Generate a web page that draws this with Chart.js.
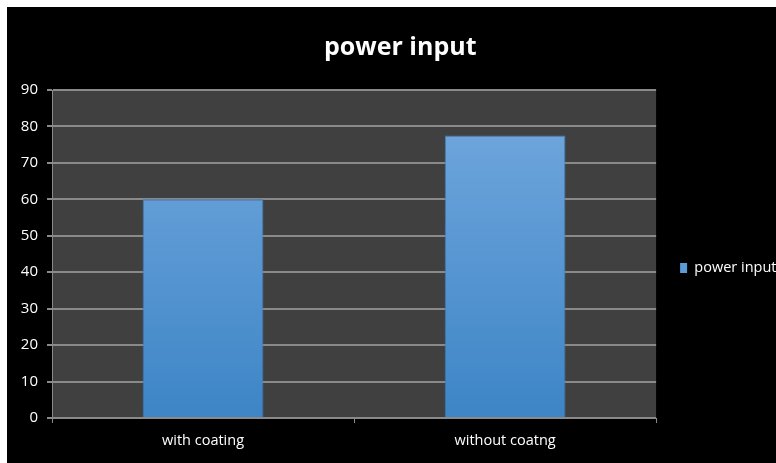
<!DOCTYPE html>
<html><head><meta charset="utf-8">
<script src="https://cdn.jsdelivr.net/npm/chart.js@4/dist/chart.umd.min.js"></script>
<style>
html,body{margin:0;padding:0;background:#fff;width:776px;height:463px;overflow:hidden;}
#wrap{position:absolute;left:7px;top:7px;width:769px;height:456px;background:#000;overflow:hidden;}
#c{position:absolute;left:0;top:0;}
</style></head>
<body><div id="wrap"><canvas id="c" width="786" height="456"></canvas></div>
<script>
const categories = ["with coating", "without coatng"];
const seriesName = "power input";
const powerInput = [60, 77.5];
const yTicks = [0, 10, 20, 30, 40, 50, 60, 70, 80, 90];

const plotBg = {
  id: 'plotBg',
  beforeDraw(chart) {
    const {ctx, chartArea: a} = chart;
    ctx.save();
    ctx.fillStyle = '#404040';
    ctx.fillRect(a.left, a.top, a.right - a.left, a.bottom - a.top);
    ctx.restore();
  }
};

function barGradient(ctx) {
  const chart = ctx.chart;
  const a = chart.chartArea;
  if (!a) return '#5b9bd5';
  const g = chart.ctx.createLinearGradient(0, a.top, 0, a.bottom);
  g.addColorStop(0, '#74a9df');
  g.addColorStop(1, '#3d85c6');
  return g;
}

const FONT = 'Open Sans';

new Chart(document.getElementById('c'), {
  type: 'bar',
  data: {
    labels: categories,
    datasets: [{
      label: seriesName,
      data: powerInput,
      backgroundColor: barGradient,
      borderColor: '#3a7bbb',
      borderWidth: 1,
      categoryPercentage: 1,
      barPercentage: 0.4
    }]
  },
  options: {
    responsive: false,
    animation: false,
    layout: { padding: { left: 7, right: 6.5, top: 0, bottom: 0 } },
    plugins: {
      title: {
        display: true,
        text: 'power input',
        color: '#fff',
        font: { family: FONT, size: 25, weight: 'bold' },
        padding: { top: 25.5, bottom: 27.5 }
      },
      legend: {
        position: 'right',
        fullSize: false,
        title: { display: true, text: '', font: { size: 10 }, padding: { top: 8, bottom: 8 } },
        labels: {
          color: '#fff',
          boxWidth: 7,
          boxHeight: 10,
          padding: 24,
          font: { family: FONT, size: 14.5 },
          generateLabels(chart) {
            return [{ text: seriesName, fillStyle: '#5b9bd5', strokeStyle: '#5b9bd5', lineWidth: 0, fontColor: '#fff', datasetIndex: 0 }];
          }
        }
      },
      tooltip: { enabled: false }
    },
    scales: {
      x: {
        offset: true,
        grid: { display: true, drawOnChartArea: false, offset: true, color: '#8a8a8a', tickLength: 5, lineWidth: 1 },
        border: { color: '#8a8a8a', width: 1 },
        ticks: { color: '#fff', font: { family: FONT, size: 14.5 }, padding: 9 },
        afterFit(s) { s.height = 45; }
      },
      y: {
        min: 0, max: 90,
        afterBuildTicks(s) { s.ticks = yTicks.map(v => ({ value: v })); },
        grid: { color: '#8a8a8a', lineWidth: 2, tickLength: 5 },
        border: { color: '#8a8a8a', width: 1 },
        ticks: { color: '#fff', font: { family: FONT, size: 15 }, padding: 9 },
        afterFit(s) { s.width = 38; }
      }
    }
  },
  plugins: [plotBg]
});
</script>
</body></html>
